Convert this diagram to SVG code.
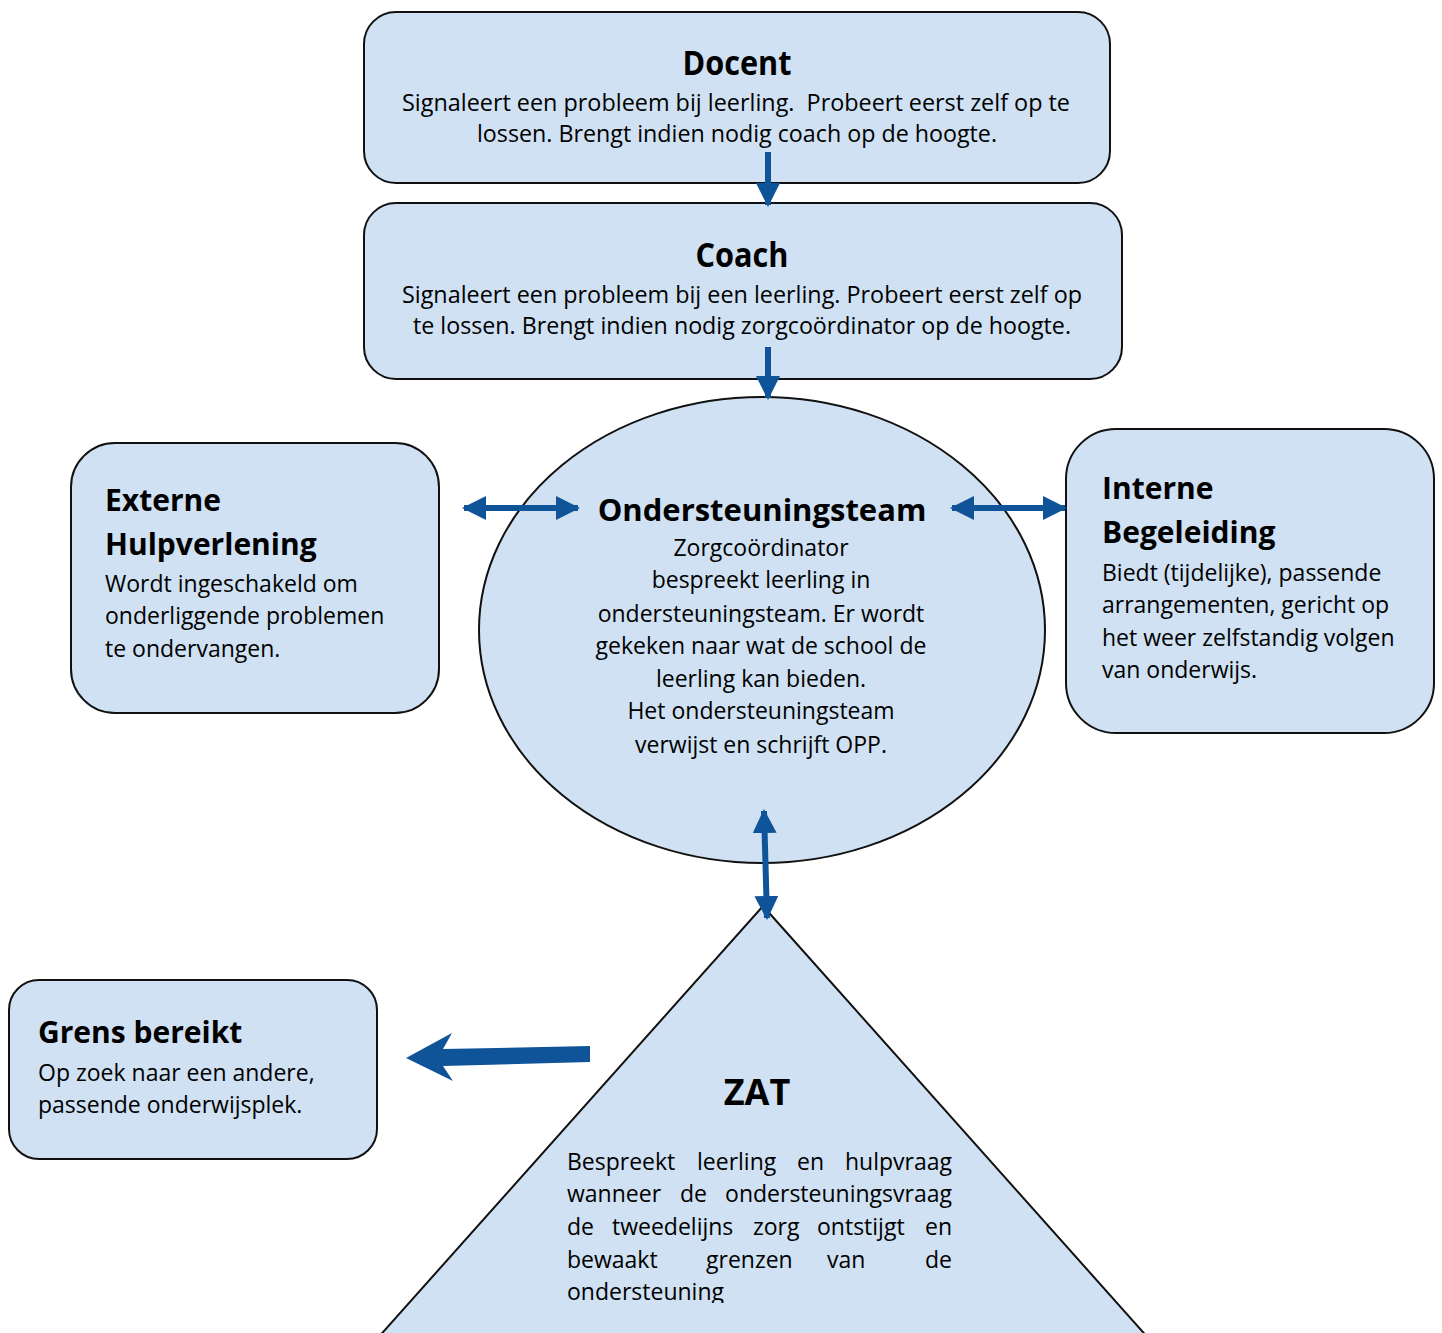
<svg xmlns="http://www.w3.org/2000/svg" width="1442" height="1333" viewBox="0 0 1442 1333">
<style>
.box{fill:#cfe1f2;stroke:#111;stroke-width:2}
.t{font-family:"Open Sans","DejaVu Sans",sans-serif;fill:#000}
.h{font-weight:bold;font-size:30px}
.b{font-size:23px}
.c{text-anchor:middle}
.ln{stroke:#0f5499;stroke-width:6;fill:none}
</style>
<defs>
<marker id="ah" markerUnits="userSpaceOnUse" markerWidth="24" markerHeight="24" refX="22" refY="12" orient="auto-start-reverse" viewBox="0 0 24 24">
<path d="M0,0 L24,12 L0,24 z" fill="#0f5499"/>
</marker>
<clipPath id="zclip"><rect x="0" y="0" width="1442" height="1303"/></clipPath>
</defs>

<g id="docent">
<rect class="box" x="364" y="12" width="746" height="171" rx="32"/>
<text class="t c" x="737" y="75" font-weight="bold" font-size="34" textLength="109" lengthAdjust="spacingAndGlyphs">Docent</text>
<text class="t c" x="736" y="111" font-size="23" textLength="668" lengthAdjust="spacingAndGlyphs" xml:space="preserve">Signaleert een probleem bij leerling.  Probeert eerst zelf op te</text>
<text class="t c" x="737" y="142" font-size="23" textLength="520" lengthAdjust="spacingAndGlyphs">lossen. Brengt indien nodig coach op de hoogte.</text>
</g>

<g id="coach">
<rect class="box" x="364" y="203" width="758" height="176" rx="32"/>
<text class="t c" x="742" y="267" font-weight="bold" font-size="34" textLength="93" lengthAdjust="spacingAndGlyphs">Coach</text>
<text class="t c" x="742" y="303" font-size="23" textLength="680" lengthAdjust="spacingAndGlyphs">Signaleert een probleem bij een leerling. Probeert eerst zelf op</text>
<text class="t c" x="742" y="334" font-size="23" textLength="658" lengthAdjust="spacingAndGlyphs">te lossen. Brengt indien nodig zorgcoördinator op de hoogte.</text>
</g>

<g id="ondersteuningsteam">
<ellipse class="box" cx="762" cy="630" rx="283" ry="233"/>
<text class="t c" x="762" y="521" font-weight="bold" font-size="31">Ondersteuningsteam</text>
<text class="t c b" x="761" y="556">Zorgcoördinator</text>
<text class="t c b" x="761" y="588">bespreekt leerling in</text>
<text class="t c b" x="761" y="622">ondersteuningsteam. Er wordt</text>
<text class="t c b" x="761" y="654">gekeken naar wat de school de</text>
<text class="t c b" x="761" y="687">leerling kan bieden.</text>
<text class="t c b" x="761" y="719">Het ondersteuningsteam</text>
<text class="t c b" x="761" y="753">verwijst en schrijft OPP.</text>
</g>

<g id="externe">
<rect class="box" x="71" y="443" width="368" height="270" rx="44"/>
<text class="t h" x="105" y="511">Externe</text>
<text class="t h" x="105" y="555">Hulpverlening</text>
<text class="t b" x="105" y="592">Wordt ingeschakeld om</text>
<text class="t b" x="105" y="624">onderliggende problemen</text>
<text class="t b" x="105" y="657">te ondervangen.</text>
</g>

<g id="interne">
<rect class="box" x="1066" y="429" width="368" height="304" rx="50"/>
<text class="t h" x="1102" y="499">Interne</text>
<text class="t h" x="1102" y="543">Begeleiding</text>
<text class="t b" x="1102" y="581">Biedt (tijdelijke), passende</text>
<text class="t b" x="1102" y="613">arrangementen, gericht op</text>
<text class="t b" x="1102" y="646">het weer zelfstandig volgen</text>
<text class="t b" x="1102" y="678">van onderwijs.</text>
</g>

<g id="grens">
<rect class="box" x="9" y="980" width="368" height="179" rx="30"/>
<text class="t h" x="38" y="1043">Grens bereikt</text>
<text class="t b" x="38" y="1081">Op zoek naar een andere,</text>
<text class="t b" x="38" y="1113">passende onderwijsplek.</text>
</g>

<g id="zat">
<path class="box" d="M763,906 L1150,1340 L376,1340 Z"/>
<text class="t c" x="757" y="1105" font-weight="bold" font-size="36">ZAT</text>
<g class="t b" clip-path="url(#zclip)">
<text x="567" y="1170">Bespreekt</text><text x="697" y="1170">leerling</text><text x="797" y="1170">en</text><text x="952" y="1170" text-anchor="end">hulpvraag</text>
<text x="567" y="1202">wanneer</text><text x="680" y="1202">de</text><text x="952" y="1202" text-anchor="end">ondersteuningsvraag</text>
<text x="567" y="1235">de</text><text x="612" y="1235">tweedelijns</text><text x="753" y="1235">zorg</text><text x="817" y="1235">ontstijgt</text><text x="952" y="1235" text-anchor="end">en</text>
<text x="567" y="1268">bewaakt</text><text x="706" y="1268">grenzen</text><text x="827" y="1268">van</text><text x="952" y="1268" text-anchor="end">de</text>
<text x="567" y="1300">ondersteuning</text>
</g>
</g>

<g id="connectors">
<line class="ln" x1="768" y1="152" x2="768" y2="205" marker-end="url(#ah)"/>
<line class="ln" x1="768" y1="347" x2="768" y2="398" marker-end="url(#ah)"/>
<line class="ln" x1="464" y1="508" x2="578" y2="508" marker-start="url(#ah)" marker-end="url(#ah)"/>
<line class="ln" x1="952" y1="508" x2="1065" y2="508" marker-start="url(#ah)" marker-end="url(#ah)"/>
<line class="ln" x1="764" y1="811" x2="767" y2="918" stroke-width="7" marker-start="url(#ah)" marker-end="url(#ah)"/>
<path d="M590,1046 L590,1062 L443,1066 L453,1081 L406,1058 L452,1033 L443,1049 Z" fill="#0f5499"/>
</g>
</svg>
